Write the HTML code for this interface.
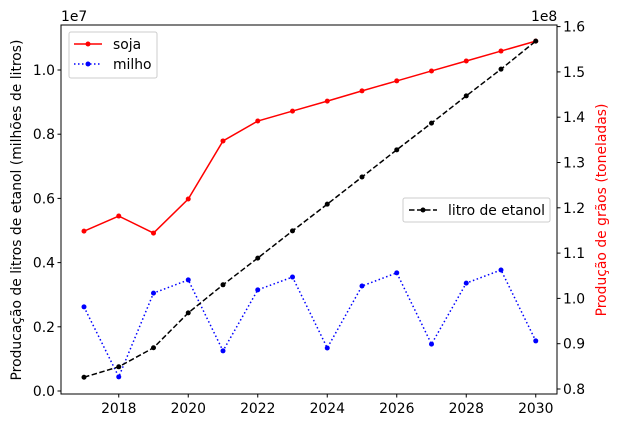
<!DOCTYPE html>
<html><head><meta charset="utf-8"><style>
body{margin:0;background:#fff;}
text{font-family:"DejaVu Sans","Liberation Sans",sans-serif;font-size:13.9px;fill:#000;}
</style></head><body>
<svg id="c" width="618" height="428" xmlns="http://www.w3.org/2000/svg"></svg>
<script>
const years=[2017,2018,2019,2020,2021,2022,2023,2024,2025,2026,2027,2028,2029,2030];
const soja=[4.98,5.45,4.92,5.98,7.79,8.41,8.72,9.03,9.35,9.66,9.97,10.28,10.59,10.9];
const milho=[2.62,0.44,3.05,3.46,1.25,3.15,3.55,1.34,3.27,3.68,1.46,3.36,3.77,1.56];
const etanol=[0.826,0.849,0.891,0.968,1.030,1.089,1.149,1.208,1.268,1.328,1.387,1.447,1.506,1.568];
const xTicks=[2018,2020,2022,2024,2026,2028,2030];
const yLeftTicks=[0,2,4,6,8,10];
const yRightTicks=[0.8,0.9,1.0,1.1,1.2,1.3,1.4,1.5,1.6];
const L=61,R=557,T=25,B=394;
const X=v=>84+(v-2017)*34.75;
const YL=v=>391-v*32.1;
const YR=v=>389-(v-0.8)*453;
const svg=document.getElementById('c');
const NS='http://www.w3.org/2000/svg';
function el(t,a,p){const e=document.createElementNS(NS,t);for(const k in a)e.setAttribute(k,a[k]);(p||svg).appendChild(e);return e;}
function series(vals,Y,color,dash,name){
  const g=el('g',{});
  
  
  el('polyline',{points:vals.map((v,i)=>X(years[i])+','+Y(v)).join(' '),fill:'none',stroke:color,'stroke-width':1.5,'stroke-dasharray':dash},g);
  vals.forEach((v,i)=>{const c=el('circle',{cx:X(years[i]),cy:Y(v),r:2.5,fill:color},g);
    
    });
}
series(soja,YL,'#ff0000','','soja');
series(milho,YL,'#0000ff','1.5 2.5','milho');
series(etanol,YR,'#000000','5.5 2.5','etanol');
const fr=el('rect',{x:L,y:T,width:R-L,height:B-T,fill:'none',stroke:'#000','stroke-width':1});


xTicks.forEach(v=>{el('line',{x1:X(v),x2:X(v),y1:B,y2:B+3.5,stroke:'#000'});
  const t=el('text',{x:X(v),y:B+19,'text-anchor':'middle'});t.textContent=v;
  });
yLeftTicks.forEach(v=>{el('line',{x1:L,x2:L-3.5,y1:YL(v),y2:YL(v),stroke:'#000'});
  const t=el('text',{x:L-6,y:YL(v)+5,'text-anchor':'end'});t.textContent=(v/10).toFixed(1);
  });
yRightTicks.forEach(v=>{el('line',{x1:R,x2:R+3.5,y1:YR(v),y2:YR(v),stroke:'#000'});
  const t=el('text',{x:R+6,y:YR(v)+5,'text-anchor':'start'});t.textContent=v.toFixed(1);
  });
</script>
<svg width="618" height="428" style="position:absolute;left:0;top:0" xmlns="http://www.w3.org/2000/svg">
<text x="61" y="21">1e7</text>
<text x="531" y="21">1e8</text>
<text transform="translate(21,210) rotate(-90)" text-anchor="middle">Producação de litros de etanol (milhões de litros)</text>
<text transform="translate(606,210) rotate(-90)" text-anchor="middle" style="fill:#ff0000">Produção de grãos (toneladas)</text>
<g>
<rect x="69" y="32" width="88" height="46" rx="2" fill="#fff" fill-opacity="0.8" stroke="#ccc"/>
<line x1="74" x2="102" y1="44" y2="44" stroke="#f00" stroke-width="1.5"/><circle cx="88" cy="44" r="2.5" fill="#f00"/>
<text x="113" y="49">soja</text>
<line x1="74" x2="102" y1="64" y2="64" stroke="#00f" stroke-width="1.5" stroke-dasharray="1.5 2.5"/><circle cx="88" cy="64" r="2.5" fill="#00f"/>
<text x="113" y="69">milho</text>
</g>
<g>
<rect x="403" y="198" width="147" height="24" rx="2" fill="#fff" fill-opacity="0.8" stroke="#ccc"/>
<line x1="409" x2="437" y1="210" y2="210" stroke="#000" stroke-width="1.5" stroke-dasharray="5.5 2.5"/><circle cx="423" cy="210" r="2.5" fill="#000"/>
<text x="448" y="215">litro de etanol</text>
</g>
</svg>
</body></html>
